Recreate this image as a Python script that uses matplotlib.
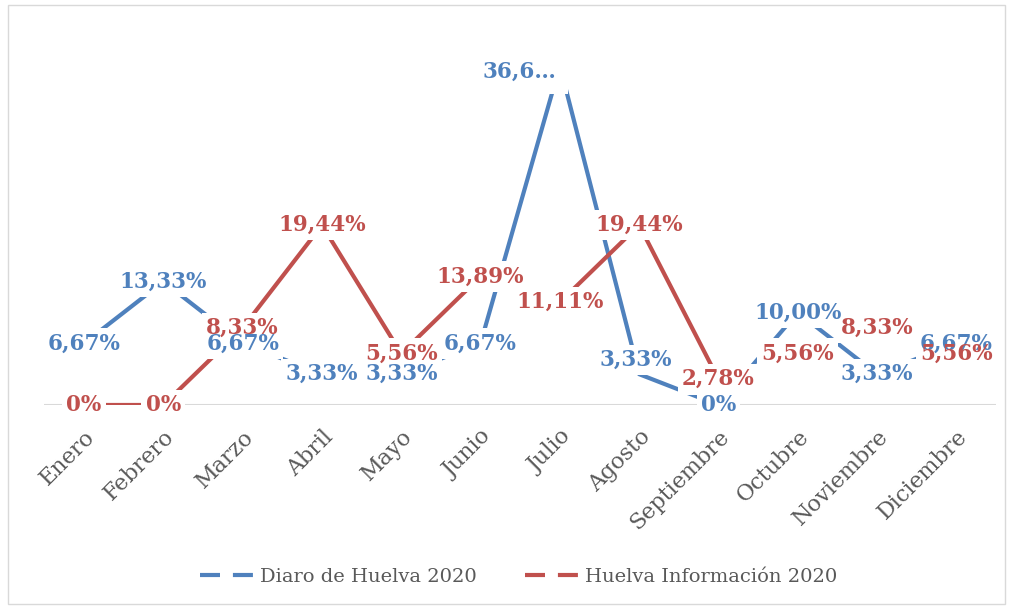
import matplotlib
matplotlib.use("Agg")
import matplotlib.pyplot as plt
from matplotlib.lines import Line2D
from matplotlib.patches import Rectangle

months = ['Enero', 'Febrero', 'Marzo', 'Abril', 'Mayo', 'Junio', 'Julio',
          'Agosto', 'Septiembre', 'Octubre', 'Noviembre', 'Diciembre']

diario = [6.67, 13.33, 6.67, 3.33, 3.33, 6.67, 36.67, 3.33, 0, 10.00, 3.33, 6.67]
diario_lbl = ['6,67%', '13,33%', '6,67%', '3,33%', '3,33%', '6,67%', '36,6…',
              '3,33%', '0%', '10,00%', '3,33%', '6,67%']

huelva = [0, 0, 8.33, 19.44, 5.56, 13.89, 11.11, 19.44, 2.78, 5.56, 8.33, 5.56]
huelva_lbl = ['0%', '0%', '8,33%', '19,44%', '5,56%', '13,89%', '11,11%',
              '19,44%', '2,78%', '5,56%', '8,33%', '5,56%']

blue = '#4F81BD'
red = '#C0504D'
grey = '#595959'
font = 'DejaVu Serif'

fig = plt.figure(figsize=(10.11, 6.09), dpi=100)
ax = fig.add_axes([0.0439, 0.335, 0.9413, 0.6076])

x = list(range(len(months)))
ax.plot(x, diario, color=blue, lw=3, zorder=2, solid_capstyle='butt')
ax.plot(x, huelva, color=red, lw=3, zorder=2, solid_capstyle='butt')
ax.axhline(0, color='#d9d9d9', lw=1.5, zorder=1)

# label nudges in pixels (excel moved a couple of them)
shift = {('d', 6): (-40, -6), ('d', 7): (-3, 14)}
pads = {('d', 6): 0.5}

def labels(vals, txts, col, key):
    for i, (v, t) in enumerate(zip(vals, txts)):
        dx, dy = shift.get((key, i), (0, 0))
        pad = pads.get((key, i), 0.2)
        # white box first, text on top of every box
        ax.annotate(t, (i, v), xytext=(dx, dy), textcoords='offset pixels',
                    ha='center', va='center', fontsize=15.5, fontweight='bold',
                    family=font, color='none', zorder=3, annotation_clip=False,
                    bbox=dict(boxstyle='square,pad=%s' % pad, fc='white', ec='none'))
        ax.annotate(t, (i, v), xytext=(dx, dy), textcoords='offset pixels',
                    ha='center', va='center', fontsize=15.5, fontweight='bold',
                    family=font, color=col, zorder=4, annotation_clip=False)

labels(diario, diario_lbl, blue, 'd')
labels(huelva, huelva_lbl, red, 'h')

ax.set_xlim(-0.5, 11.5)
ax.set_ylim(0, 40)
ax.set_yticks([])
ax.set_xticks(x)
ax.set_xticklabels(months, rotation=45, ha='right', va='top',
                   rotation_mode='anchor', family=font, fontsize=16, color=grey)
ax.tick_params(axis='x', length=0, pad=15)
for s in ax.spines.values():
    s.set_visible(False)

handles = [Line2D([], [], color=blue, lw=3, dashes=(4.8, 3.1)),
           Line2D([], [], color=red, lw=3, dashes=(4.8, 3.1))]
fig.legend(handles, ['Diaro de Huelva 2020', 'Huelva Información 2020'],
           loc='center', bbox_to_anchor=(0.513, 0.053), ncol=2, frameon=False,
           prop=dict(family=font, size=14), labelcolor=grey, handlelength=2.78,
           handletextpad=0.3, columnspacing=2.5)

fig.patches.append(Rectangle((0.008, 0.008), 0.986, 0.984, transform=fig.transFigure,
                             fill=False, ec='#d9d9d9', lw=1))

fig.savefig('out.png', dpi=100)
